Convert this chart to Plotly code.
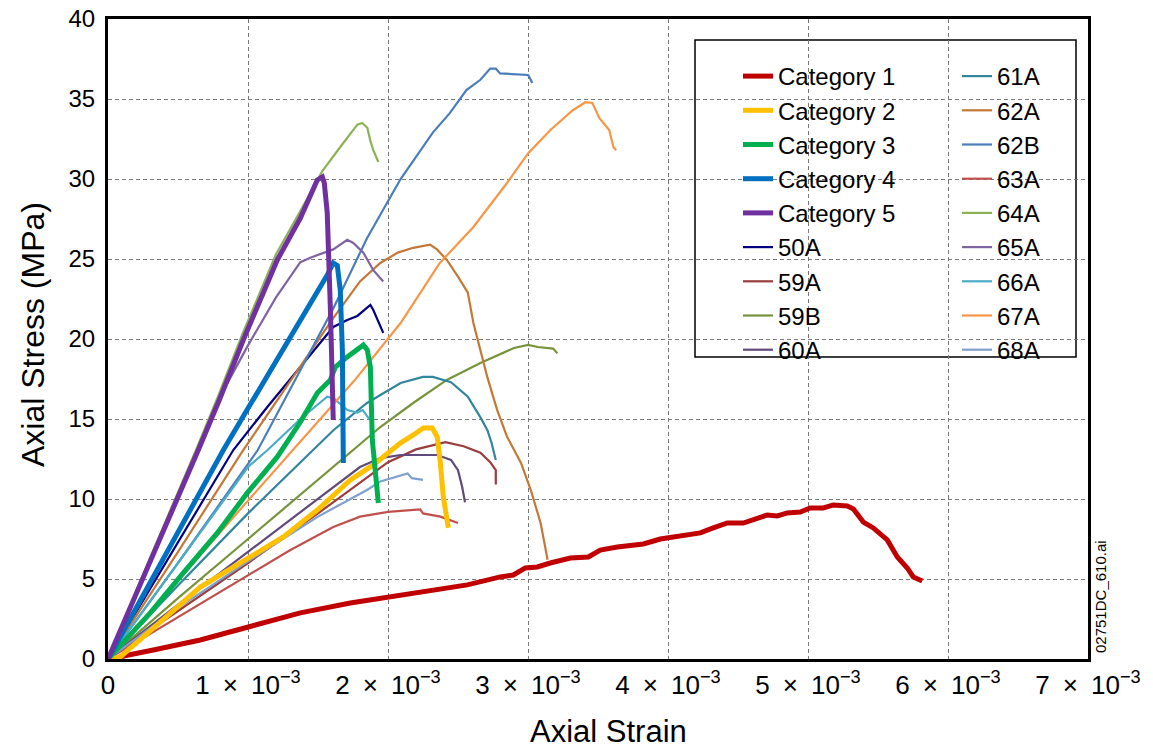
import plotly.graph_objects as go

# ---- data (strain in units of 1e-3, stress in MPa) ----
cat1_strain = [0.04, 0.12, 0.324, 0.659, 1.002, 1.374, 1.731, 2.002, 2.324, 2.566, 2.802, 2.895, 2.981, 3.066, 3.159, 3.302, 3.431, 3.516, 3.638, 3.824, 3.945, 4.109, 4.231, 4.323, 4.424, 4.538, 4.709, 4.781, 4.852, 4.945, 5.016, 5.109, 5.181, 5.281, 5.324, 5.395, 5.466, 5.566, 5.638, 5.709, 5.752, 5.816]
cat1_stress = [0.0, 0.2, 0.56, 1.19, 2.0, 2.88, 3.5, 3.88, 4.31, 4.63, 5.13, 5.25, 5.69, 5.75, 6.0, 6.31, 6.38, 6.81, 7.0, 7.19, 7.5, 7.75, 7.88, 8.19, 8.5, 8.5, 9.0, 8.94, 9.13, 9.19, 9.44, 9.44, 9.63, 9.56, 9.38, 8.56, 8.19, 7.44, 6.38, 5.69, 5.13, 4.88]

cat2_strain = [0, 0.088, 0.659, 0.995, 1.252, 1.495, 1.731, 1.895, 2.088, 2.181, 2.252, 2.316, 2.352, 2.374, 2.395, 2.431]
cat2_stress = [0, 0.13, 4.5, 6.31, 7.63, 9.31, 11.19, 12.13, 13.5, 14.0, 14.44, 14.44, 13.88, 12.25, 10.13, 8.19]

cat3_strain = [0, 0.302, 0.538, 0.781, 0.995, 1.209, 1.374, 1.495, 1.588, 1.624, 1.709, 1.781, 1.824, 1.852, 1.874, 1.888, 1.909, 1.931]
cat3_stress = [0, 2.88, 5.38, 7.88, 10.38, 12.63, 14.81, 16.63, 17.44, 18.25, 18.88, 19.31, 19.63, 19.31, 18.25, 13.69, 11.63, 9.75]

cat4_strain = [0, 0.3, 0.55, 0.824, 1.016, 1.209, 1.374, 1.495, 1.566, 1.609, 1.638, 1.659, 1.674, 1.681]
cat4_stress = [0, 4.75, 8.7, 13.06, 15.9, 18.7, 21.2, 23.0, 24.0, 24.75, 24.6, 23.06, 19.31, 12.25]

cat5_strain = [0, 0.3, 0.645, 0.795, 0.966, 1.209, 1.374, 1.495, 1.531, 1.545, 1.566, 1.588, 1.609]
cat5_stress = [0, 6.0, 13.06, 16.19, 19.94, 24.94, 27.56, 29.94, 30.13, 29.75, 27.88, 22.0, 14.94]

s50a_strain = [0, 0.3, 0.6, 0.895, 1.138, 1.374, 1.609, 1.709, 1.781, 1.874, 1.895, 1.966]
s50a_stress = [0, 4.4, 8.8, 13.06, 15.75, 18.25, 20.75, 21.19, 21.44, 22.13, 21.81, 20.38]

s59a_strain = [0, 0.5, 1.0, 1.5, 2.0, 2.2, 2.41, 2.54, 2.66, 2.73, 2.77, 2.77]
s59a_stress = [0, 3.0, 6.0, 9.1, 12.3, 13.1, 13.55, 13.3, 12.9, 12.3, 11.8, 10.9]

s59b_strain = [0, 0.5, 1.0, 1.5, 1.945, 2.18, 2.42, 2.66, 2.9, 3.0, 3.07, 3.18, 3.21]
s59b_stress = [0, 3.8, 7.5, 11.2, 14.5, 16.0, 17.44, 18.5, 19.44, 19.63, 19.5, 19.4, 19.1]

s60a_strain = [0, 0.5, 1.0, 1.5, 1.8, 1.945, 2.09, 2.35, 2.45, 2.5, 2.53, 2.55]
s60a_stress = [0, 3.4, 6.7, 10.0, 12.0, 12.56, 12.75, 12.75, 12.44, 11.8, 10.75, 9.8]

s61a_strain = [0, 0.5, 1.0, 1.374, 1.61, 1.85, 2.09, 2.25, 2.32, 2.45, 2.57, 2.66, 2.71, 2.74, 2.77]
s61a_stress = [0, 4.6, 9.1, 12.25, 14.3, 16.0, 17.25, 17.63, 17.63, 17.3, 16.4, 15.1, 14.3, 13.5, 12.44]

s62a_strain = [0, 0.5, 0.966, 1.3, 1.609, 1.8, 1.945, 2.07, 2.18, 2.30, 2.35, 2.42, 2.5, 2.57, 2.61, 2.66, 2.71, 2.78, 2.85, 2.95, 3.02, 3.09, 3.12, 3.14]
s62a_stress = [0, 6.7, 13.06, 17.3, 21.3, 23.6, 24.75, 25.4, 25.7, 25.9, 25.6, 24.94, 23.9, 22.9, 21.0, 19.3, 17.6, 15.56, 13.9, 12.25, 10.56, 8.5, 7.25, 6.2]

s62b_strain = [0, 0.5, 1.07, 1.326, 1.609, 1.85, 2.09, 2.32, 2.44, 2.56, 2.66, 2.73, 2.77, 2.8, 2.9, 3.0, 3.02, 3.03]
s62b_stress = [0, 6.0, 13.06, 17.25, 21.9, 26.3, 30.0, 32.9, 34.1, 35.56, 36.2, 36.9, 36.9, 36.6, 36.56, 36.5, 36.2, 36.0]

s63a_strain = [0, 0.5, 1.0, 1.3, 1.609, 1.8, 2.0, 2.23, 2.25, 2.374, 2.5]
s63a_stress = [0, 2.6, 5.2, 6.8, 8.25, 8.9, 9.2, 9.35, 9.1, 8.9, 8.5]

s64a_strain = [0, 0.3, 0.64, 0.79, 0.96, 1.2, 1.374, 1.531, 1.659, 1.781, 1.816, 1.852, 1.874, 1.895, 1.931]
s64a_stress = [0, 6.3, 13.3, 16.5, 20.3, 25.3, 28.0, 30.5, 32.0, 33.4, 33.5, 33.2, 32.4, 31.8, 31.06]

s65a_strain = [0, 0.3, 0.8, 1.0, 1.2, 1.374, 1.45, 1.609, 1.709, 1.752, 1.824, 1.895, 1.966]
s65a_stress = [0, 6.0, 16.4, 19.6, 22.6, 24.8, 25.1, 25.6, 26.2, 26.0, 25.4, 24.3, 23.6]

s66a_strain = [0, 0.5, 1.0, 1.14, 1.374, 1.566, 1.61, 1.71, 1.78, 1.82, 1.87]
s66a_stress = [0, 6.0, 12.0, 13.06, 15.0, 16.4, 16.3, 15.56, 15.4, 15.56, 14.94]

s67a_strain = [0, 0.5, 1.0, 1.32, 1.76, 2.09, 2.37, 2.61, 2.85, 3.0, 3.16, 3.32, 3.41, 3.46, 3.51, 3.58, 3.6, 3.61, 3.63]
s67a_stress = [0, 4.9, 9.9, 13.06, 17.4, 21.0, 24.75, 27.0, 29.75, 31.6, 33.06, 34.3, 34.8, 34.75, 33.8, 33.06, 32.4, 32.0, 31.8]

s68a_strain = [0, 0.5, 1.0, 1.5, 1.85, 1.945, 2.14, 2.17, 2.25]
s68a_stress = [0, 3.2, 6.1, 8.9, 10.56, 11.1, 11.6, 11.3, 11.2]

x_tick_vals = [0, 1, 2, 3, 4, 5, 6, 7]
x_tick_text = ["0"] + [f"{v}\u2002×\u200210<sup>−3</sup>" for v in range(1, 8)]
y_tick_vals = [0, 5, 10, 15, 20, 25, 30, 35, 40]

# (name, strain, stress, color, width, legend, rank)
series = [
    ("50A", s50a_strain, s50a_stress, "#000080", 2.2, "legend", 6),
    ("59A", s59a_strain, s59a_stress, "#9B3D3D", 2.2, "legend", 7),
    ("59B", s59b_strain, s59b_stress, "#77933C", 2.2, "legend", 8),
    ("60A", s60a_strain, s60a_stress, "#604A7B", 2.2, "legend", 9),
    ("61A", s61a_strain, s61a_stress, "#31859C", 2.2, "legend2", 1),
    ("62A", s62a_strain, s62a_stress, "#C47838", 2.2, "legend2", 2),
    ("62B", s62b_strain, s62b_stress, "#4A7EBB", 2.2, "legend2", 3),
    ("63A", s63a_strain, s63a_stress, "#C0504D", 2.2, "legend2", 4),
    ("64A", s64a_strain, s64a_stress, "#8DB255", 2.2, "legend2", 5),
    ("65A", s65a_strain, s65a_stress, "#8064A2", 2.2, "legend2", 6),
    ("66A", s66a_strain, s66a_stress, "#4BACC6", 2.2, "legend2", 7),
    ("67A", s67a_strain, s67a_stress, "#F79646", 2.2, "legend2", 8),
    ("68A", s68a_strain, s68a_stress, "#7F9FCF", 2.2, "legend2", 9),
    ("Category 1", cat1_strain, cat1_stress, "#C00000", 5, "legend", 1),
    ("Category 2", cat2_strain, cat2_stress, "#FFC000", 5, "legend", 2),
    ("Category 3", cat3_strain, cat3_stress, "#00B050", 5, "legend", 3),
    ("Category 4", cat4_strain, cat4_stress, "#0070C0", 5, "legend", 4),
    ("Category 5", cat5_strain, cat5_stress, "#7030A0", 5, "legend", 5),
]

fig = go.Figure()
for name, sx, sy, color, width, leg, rank in series:
    fig.add_trace(go.Scatter(
        x=[v * 1e-3 for v in sx], y=sy, mode="lines", name=name,
        line=dict(color=color, width=width),
        legend=leg, legendrank=rank, hoverinfo="skip",
    ))

FONT = "Liberation Sans, Arial, Helvetica, sans-serif"
W, H = 1153, 748
L, R, T, B = 108, 65, 19, 89
PW, PH = W - L - R, H - T - B

def px_x(p):
    return (p - L) / PW

def px_y(p):
    return (H - B - p) / PH

legend_common = dict(
    xanchor="left", yanchor="top", bgcolor="rgba(0,0,0,0)", borderwidth=0,
    font=dict(family=FONT, size=24, color="#000"), itemwidth=30,
    traceorder="normal", tracegroupgap=0, itemclick=False,
)

fig.update_layout(
    width=W, height=H,
    margin=dict(l=L, r=R, t=T, b=B, autoexpand=False),
    plot_bgcolor="white", paper_bgcolor="white",
    font=dict(family=FONT, color="#000"),
    showlegend=True,
    legend=dict(x=px_x(738), y=px_y(54), **legend_common),
    legend2=dict(x=px_x(957), y=px_y(54), **legend_common),
    xaxis=dict(
        range=[0, 0.007], tickvals=[v * 1e-3 for v in x_tick_vals], ticktext=x_tick_text,
        tickfont=dict(size=26, family=FONT, color="#000"), ticks="", ticklabelstandoff=1,
        ticklabeloverflow="allow",
        showgrid=True, gridcolor="#7a7a7a", griddash="4px,3px", gridwidth=1,
        zeroline=False, showline=True, linecolor="black", linewidth=3, mirror=True,
        automargin=False,
    ),
    yaxis=dict(
        range=[0, 40], tickvals=y_tick_vals,
        tickfont=dict(size=24, family=FONT, color="#000"), ticks="", ticklabelstandoff=5,
        ticklabeloverflow="allow",
        showgrid=True, gridcolor="#7a7a7a", griddash="4px,3px", gridwidth=1,
        zeroline=False, showline=True, linecolor="black", linewidth=3, mirror=True,
        automargin=False,
    ),
    shapes=[dict(
        type="rect", xref="paper", yref="paper",
        x0=px_x(695), x1=px_x(1076), y0=px_y(357), y1=px_y(40),
        line=dict(color="black", width=1.5), fillcolor="white", layer="below",
    )],
    annotations=[
        dict(text="Axial Strain", xref="paper", yref="paper", x=px_x(608), y=px_y(731),
             showarrow=False, xanchor="center", yanchor="middle",
             font=dict(size=31, family=FONT, color="#000")),
        dict(text="Axial Stress (MPa)", xref="paper", yref="paper", x=px_x(33), y=px_y(335),
             showarrow=False, xanchor="center", yanchor="middle", textangle=-90,
             font=dict(size=32, family=FONT, color="#000")),
        dict(text="02751DC_610.ai", xref="paper", yref="paper",
             x=px_x(1100), y=px_y(597), textangle=-90, showarrow=False,
             font=dict(size=15, family=FONT, color="#000"), xanchor="center", yanchor="middle"),
    ],
)

fig.write_html("out.html", config={"displayModeBar": False},
               post_script="document.body.style.margin='0px';")
